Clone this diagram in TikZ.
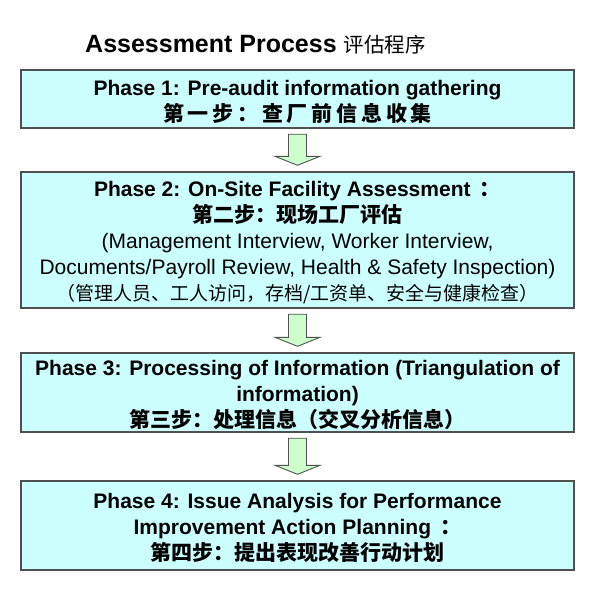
\documentclass[tikz,border=0pt]{standalone}
\usepackage{fontspec}
\setmainfont{Liberation Sans}
\newfontfamily\cjk{Noto Sans CJK SC}
\usetikzlibrary{calc}
\definecolor{boxcyan}{HTML}{CCFFFF}
\definecolor{boxedge}{HTML}{505050}
\definecolor{arrgreen}{HTML}{CCFFCC}
\newcommand\zh{\cjk\bfseries}
\newcommand\zhsp{\cjk\bfseries\addfontfeature{LetterSpace=18}}
\newcommand\topstrut{\rule{0pt}{21pt}}
\tikzset{
  % kaestchen
  ph/.style={rectangle,draw=boxedge,fill=boxcyan,line width=1.4pt,inner sep=0pt,
             minimum width=553pt,align=center,
             font=\fontsize{21}{26}\selectfont\bfseries},
  ttl/.style={anchor=base west,inner sep=0pt},
  % pfeile
  blk/.style={draw=boxedge,fill=arrgreen,line width=0.9pt,line join=miter},
}
\begin{document}
\begin{tikzpicture}[x=1pt,y=-1pt]
\useasboundingbox (0,0) rectangle (597,595);
  \node[ttl] (title) at (85,52) {\fontsize{25}{30}\selectfont\bfseries Assessment Process\
    {\cjk\mdseries\fontsize{20.5}{24}\selectfont 评估程序}};
  \node[ph,minimum height=58pt] (p1) at (297.5,99)
    {\topstrut Phase 1: Pre-audit information gathering\\
     {\zhsp 第一步：查厂前信息收集}};
  \node[ph,minimum height=136pt] (p2) at (297.5,240)
    {\topstrut Phase 2: On-Site Facility Assessment\ \,{\zh ：}\\
     {\zh 第二步：现场工厂评估}\\
     {\mdseries (Management Interview, Worker Interview,}\\
     {\mdseries Documents/Payroll Review, Health \& Safety Inspection)}\\
     {\cjk\mdseries\fontsize{19}{26}\selectfont （管理人员、工人访问，存档/工资单、安全与健康检查）}};
  \node[ph,minimum height=79pt] (p3) at (297.5,392.5)
    {\topstrut Phase 3: Processing of Information (Triangulation of\\
     information)\\
     {\zh 第三步：处理信息（交叉分析信息）}};
  \node[ph,minimum height=89pt] (p4) at (297.5,525.5)
    {\topstrut Phase 4: Issue Analysis for Performance\\
     Improvement Action Planning\ \,{\zh ：}\\
     {\zh 第四步：提出表现改善行动计划}};
  % pfeile zwischen den phasen
  \foreach \a/\b in {p1/p2,p2/p3,p3/p4}
    \draw[blk] let \p1=(\a.south), \p2=(\b.north) in
      (\x1-9,\y1-5.5) -- (\x1+9,\y1-5.5) -- (\x1+9,\y2+15) -- (\x1+22.5,\y2+15)
      -- (\x1,\y2+6) -- (\x1-22.5,\y2+15) -- (\x1-9,\y2+15) -- cycle;
\end{tikzpicture}
\end{document}
